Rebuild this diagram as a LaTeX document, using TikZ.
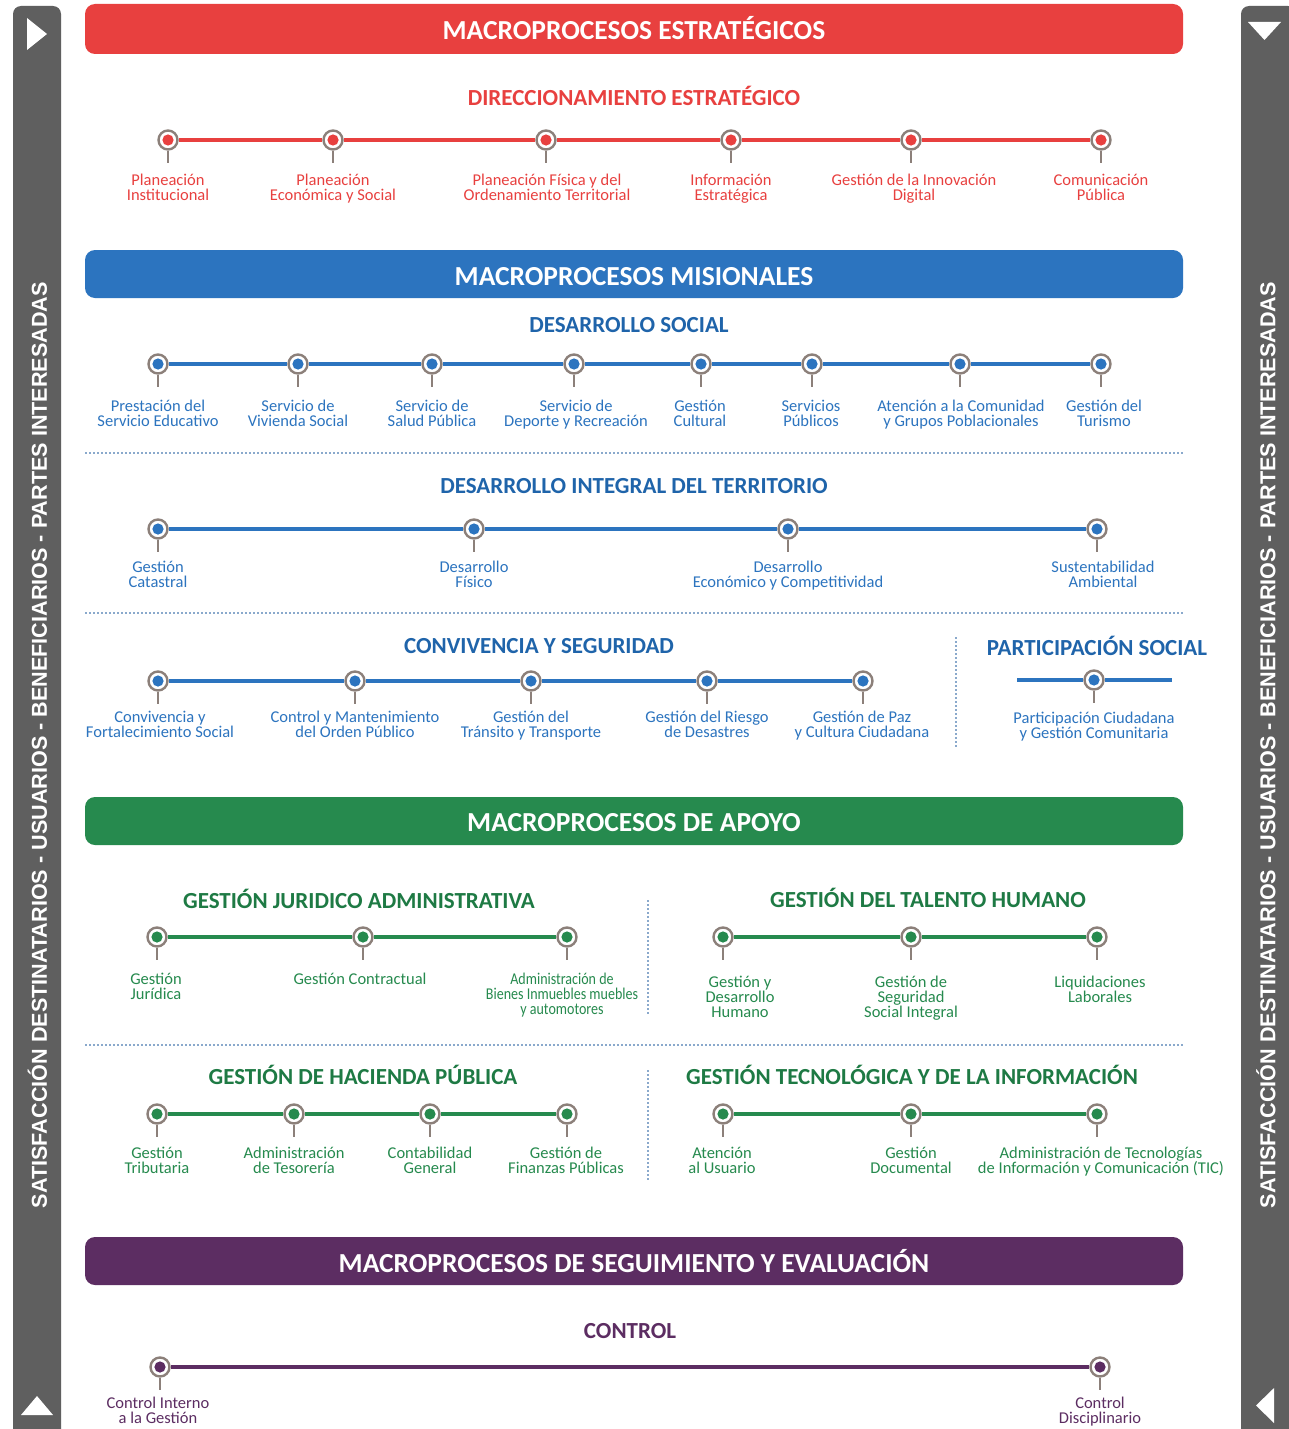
\documentclass[tikz,border=0pt]{standalone}
\usepackage{fontspec}
\setmainfont{Carlito}
\newfontfamily\sidefont{Liberation Sans}
\newfontfamily\condfont[FakeStretch=0.85]{Carlito}
\definecolor{cred}{HTML}{E8403F}
\definecolor{cblue}{HTML}{2C74BF}
\definecolor{cbluet}{HTML}{1F64AA}
\definecolor{cgreen}{HTML}{268A4E}
\definecolor{cgreent}{HTML}{1E7A44}
\definecolor{cpurple}{HTML}{5C2D62}
\definecolor{cbar}{HTML}{5F5F5F}
\definecolor{cring}{HTML}{8C807A}
\definecolor{csep}{HTML}{8AA9CC}
\tikzset{
  header/.style={fill=#1, rounded corners=10pt},
  htext/.style={text=white, font=\fontsize{27.5}{29}\selectfont\bfseries, inner sep=0pt},
  subt/.style={text=#1, font=\fontsize{23}{25}\selectfont\bfseries, inner sep=0pt},
  tldot/.style={circle, draw=cring, line width=2.4pt, fill=white, minimum size=19pt, inner sep=0pt,
    path picture={\fill[#1] (path picture bounding box.center) circle (5.6pt);}},
  tlstem/.style={draw=cring, line width=1.2pt},
  tlline/.style={draw=#1, line width=4pt},
  tllbl/.style={text=#1, font=\fontsize{16.5}{15}\selectfont, align=center, inner sep=0pt, anchor=north},
  sepline/.style={draw=csep, line width=1.3pt, dash pattern=on 2pt off 2pt},
  sidetext/.style={text=white, font=\sidefont\fontsize{21.6}{23}\selectfont\bfseries, rotate=90, inner sep=0pt},
  tri/.style={fill=white}
}
% name, x, y, color, label x, label
\newcommand\tlpt[6]{%
  \node[tldot=#4] (#1) at (#2,#3) {};
  \coordinate (#1-s) at (#2,#3+23);
  \draw[tlstem] (#1.south) -- (#1-s);
  \node[tllbl=#4] (#1-l) at (#5,#3+\lblof) {#6};
}
\def\lblof{33}
\begin{document}
\begin{tikzpicture}[x=1pt,y=-1pt]
\useasboundingbox (0,0) rectangle (1289,1429);
\fill[white] (0,0) rectangle (1289,1429);

% side bars
\fill[cbar] (13,1435) [rounded corners=8pt]-- (13,6) -- (61,6) [sharp corners]-- (61,1435) -- cycle;
\fill[cbar] (1241,1435) [rounded corners=8pt]-- (1241,6) -- (1296,6) [sharp corners]-- (1296,1435) -- cycle;
\node[sidetext] (sideL) at (37.5,745) {SATISFACCIÓN DESTINATARIOS - USUARIOS - BENEFICIARIOS - PARTES INTERESADAS};
\node[sidetext] (sideR) at (1266,745) {SATISFACCIÓN DESTINATARIOS - USUARIOS - BENEFICIARIOS - PARTES INTERESADAS};
\fill[tri] (27,18) -- (27,50) -- (47,34) -- cycle;
\fill[tri] (21,1415) -- (53,1415) -- (37,1396) -- cycle;
\fill[tri] (1248,22) -- (1281,22) -- (1264.5,40) -- cycle;
\fill[tri] (1274,1388) -- (1274,1423) -- (1256,1405.5) -- cycle;

% ===== ESTRATEGICOS =====
\fill[header=cred] (85,4) rectangle (1183,54);
\node[htext] (h1) at (634,28) {MACROPROCESOS ESTRATÉGICOS};
\node[subt=cred] (s1) at (634,96) {DIRECCIONAMIENTO ESTRATÉGICO};
\def\lblof{34}
\tlpt{r1}{168}{140}{cred}{168}{Planeación\\Institucional}
\tlpt{r2}{333}{140}{cred}{333}{Planeación\\Económica y Social}
\tlpt{r3}{546}{140}{cred}{547}{Planeación Física y del\\Ordenamiento Territorial}
\tlpt{r4}{731}{140}{cred}{731}{Información\\Estratégica}
\tlpt{r5}{911}{140}{cred}{914}{Gestión de la Innovación\\Digital}
\tlpt{r6}{1101}{140}{cred}{1101}{Comunicación\\Pública}
\draw[tlline=cred] (r1) -- (r2);
\draw[tlline=cred] (r2) -- (r3);
\draw[tlline=cred] (r3) -- (r4);
\draw[tlline=cred] (r4) -- (r5);
\draw[tlline=cred] (r5) -- (r6);

% ===== MISIONALES =====
\fill[header=cblue] (85,250) rectangle (1183,298);
\node[htext] (h2) at (634,277) {MACROPROCESOS MISIONALES};
\node[subt=cbluet] (s2) at (629,325) {DESARROLLO SOCIAL};
\def\lblof{36}
\tlpt{b1}{158}{364}{cblue}{158}{Prestación del\\Servicio Educativo}
\tlpt{b2}{298}{364}{cblue}{298}{Servicio de\\Vivienda Social}
\tlpt{b3}{432}{364}{cblue}{432}{Servicio de\\Salud Pública}
\tlpt{b4}{574}{364}{cblue}{576}{Servicio de\\Deporte y Recreación}
\tlpt{b5}{701}{364}{cblue}{700}{Gestión\\Cultural}
\tlpt{b6}{812}{364}{cblue}{811}{Servicios\\Públicos}
\tlpt{b7}{960}{364}{cblue}{961}{Atención a la Comunidad\\y Grupos Poblacionales}
\tlpt{b8}{1101}{364}{cblue}{1104}{Gestión del\\Turismo}
\draw[tlline=cblue] (b1) -- (b2);
\draw[tlline=cblue] (b2) -- (b3);
\draw[tlline=cblue] (b3) -- (b4);
\draw[tlline=cblue] (b4) -- (b5);
\draw[tlline=cblue] (b5) -- (b6);
\draw[tlline=cblue] (b6) -- (b7);
\draw[tlline=cblue] (b7) -- (b8);
\coordinate (sep1a) at (85,453); \coordinate (sep1b) at (1183,453);
\draw[sepline] (sep1a) -- (sep1b);

\node[subt=cbluet] (s3) at (634,486) {DESARROLLO INTEGRAL DEL TERRITORIO};
\def\lblof{32}
\tlpt{t1}{158}{529}{cblue}{158}{Gestión\\Catastral}
\tlpt{t2}{474}{529}{cblue}{474}{Desarrollo\\Físico}
\tlpt{t3}{788}{529}{cblue}{788}{Desarrollo\\Económico y Competitividad}
\tlpt{t4}{1097}{529}{cblue}{1103}{Sustentabilidad\\Ambiental}
\draw[tlline=cblue] (t1) -- (t2);
\draw[tlline=cblue] (t2) -- (t3);
\draw[tlline=cblue] (t3) -- (t4);
\coordinate (sep2a) at (85,613); \coordinate (sep2b) at (1183,613);
\draw[sepline] (sep2a) -- (sep2b);

\node[subt=cbluet] (s4) at (539,646) {CONVIVENCIA Y SEGURIDAD};
\def\lblof{30}
\tlpt{c1}{158}{681}{cblue}{160}{Convivencia y\\Fortalecimiento Social}
\tlpt{c2}{355}{681}{cblue}{355}{Control y Mantenimiento\\del Orden Público}
\tlpt{c3}{531}{681}{cblue}{531}{Gestión del\\Tránsito y Transporte}
\tlpt{c4}{707}{681}{cblue}{707}{Gestión del Riesgo\\de Desastres}
\tlpt{c5}{863}{681}{cblue}{862}{Gestión de Paz\\y Cultura Ciudadana}
\draw[tlline=cblue] (c1) -- (c2);
\draw[tlline=cblue] (c2) -- (c3);
\draw[tlline=cblue] (c3) -- (c4);
\draw[tlline=cblue] (c4) -- (c5);
\coordinate (vs1a) at (956,637); \coordinate (vs1b) at (956,748);
\draw[sepline] (vs1a) -- (vs1b);

\node[subt=cbluet] (s5) at (1097,646) {PARTICIPACIÓN SOCIAL};
\def\lblof{32}
\tlpt{p1}{1094}{680}{cblue}{1094}{Participación Ciudadana\\y Gestión Comunitaria}
\coordinate (p0) at (1017,680); \coordinate (p2) at (1172,680);
\draw[tlline=cblue] (p0) -- (p1);
\draw[tlline=cblue] (p1) -- (p2);

% ===== APOYO =====
\fill[header=cgreen] (85,797) rectangle (1183,845);
\node[htext] (h3) at (634,823) {MACROPROCESOS DE APOYO};
\node[subt=cgreent] (s6) at (359,899) {GESTIÓN JURIDICO ADMINISTRATIVA};
\def\lblof{36}
\tlpt{g1}{157}{937}{cgreen}{156}{Gestión\\Jurídica}
\tlpt{g2}{363}{937}{cgreen}{360}{Gestión Contractual}
\tlpt{g3}{567}{937}{cgreen}{562}{\condfont Administración de\\\condfont Bienes Inmuebles muebles\\\condfont y automotores}
\draw[tlline=cgreen] (g1) -- (g2);
\draw[tlline=cgreen] (g2) -- (g3);
\coordinate (vs2a) at (648,900); \coordinate (vs2b) at (648,1015);
\draw[sepline] (vs2a) -- (vs2b);

\node[subt=cgreent] (s7) at (928,898) {GESTIÓN DEL TALENTO HUMANO};
\def\lblof{39}
\tlpt{g4}{723}{937}{cgreen}{740}{Gestión y\\Desarrollo\\Humano}
\tlpt{g5}{911}{937}{cgreen}{911}{Gestión de\\Seguridad\\Social Integral}
\tlpt{g6}{1097}{937}{cgreen}{1100}{Liquidaciones\\Laborales}
\draw[tlline=cgreen] (g4) -- (g5);
\draw[tlline=cgreen] (g5) -- (g6);
\coordinate (sep3a) at (85,1045); \coordinate (sep3b) at (1183,1045);
\draw[sepline] (sep3a) -- (sep3b);

\node[subt=cgreent] (s8) at (363,1075) {GESTIÓN DE HACIENDA PÚBLICA};
\def\lblof{33}
\tlpt{k1}{157}{1114}{cgreen}{157}{Gestión\\Tributaria}
\tlpt{k2}{294}{1114}{cgreen}{294}{Administración\\de Tesorería}
\tlpt{k3}{430}{1114}{cgreen}{430}{Contabilidad\\General}
\tlpt{k4}{567}{1114}{cgreen}{566}{Gestión de\\Finanzas Públicas}
\draw[tlline=cgreen] (k1) -- (k2);
\draw[tlline=cgreen] (k2) -- (k3);
\draw[tlline=cgreen] (k3) -- (k4);
\coordinate (vs3a) at (648,1070); \coordinate (vs3b) at (648,1180);
\draw[sepline] (vs3a) -- (vs3b);

\node[subt=cgreent] (s9) at (912,1075) {GESTIÓN TECNOLÓGICA Y DE LA INFORMACIÓN};
\tlpt{k5}{723}{1114}{cgreen}{722}{Atención\\al Usuario}
\tlpt{k6}{911}{1114}{cgreen}{911}{Gestión\\Documental}
\tlpt{k7}{1097}{1114}{cgreen}{1101}{Administración de Tecnologías\\de Información y Comunicación (TIC)}
\draw[tlline=cgreen] (k5) -- (k6);
\draw[tlline=cgreen] (k6) -- (k7);

% ===== SEGUIMIENTO =====
\fill[header=cpurple] (85,1237) rectangle (1183,1285);
\node[htext] (h4) at (634,1261) {MACROPROCESOS DE SEGUIMIENTO Y EVALUACIÓN};
\node[subt=cpurple] (s10) at (630,1331) {CONTROL};
\def\lblof{30}
\tlpt{q1}{160}{1367}{cpurple}{158}{Control Interno\\a la Gestión}
\tlpt{q2}{1100}{1367}{cpurple}{1100}{Control\\Disciplinario}
\draw[tlline=cpurple] (q1) -- (q2);
\end{tikzpicture}
\end{document}
